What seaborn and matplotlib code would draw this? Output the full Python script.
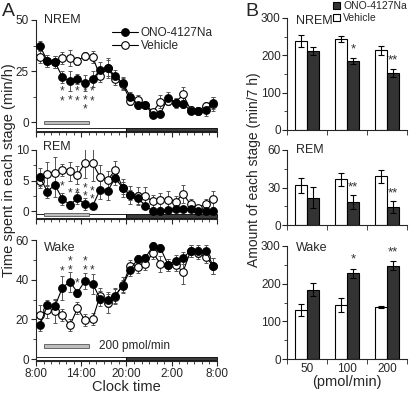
import numpy as np
import pandas as pd
import matplotlib
matplotlib.use('Agg')
import matplotlib.pyplot as plt
import matplotlib.transforms as mtransforms
from matplotlib.patches import Rectangle
from matplotlib.ticker import FixedLocator, MultipleLocator
import seaborn as sns

# ---- data ----
hours = [0.5, 1.5, 2.5, 3.5, 4.5, 5.5, 6.5, 7.5, 8.5, 9.5, 10.5, 11.5,
         12.5, 13.5, 14.5, 15.5, 16.5, 17.5, 18.5, 19.5, 20.5, 21.5, 22.5, 23.5]
clock_labels = ['8:00', '14:00', '20:00', '2:00', '8:00']

nrem_ono = [37.5, 30, 29.5, 22, 20, 21, 19, 21, 25.5, 26.5, 22.5, 19,
            12.5, 8.5, 8.5, 3.5, 4, 12, 9.5, 9, 5.5, 5.5, 6, 9.5]
nrem_ono_err = [2, 3, 3, 3, 5, 2.5, 4, 4, 4, 4, 3, 3,
                2, 2, 1.5, 1.5, 1.5, 2.5, 2.5, 2, 1, 2, 3, 3]
nrem_veh = [32, 30, 29.5, 31.5, 31.5, 30, 32.5, 32, 22.5, 26.5, 21, 18.5,
            10.5, 11, 8.5, 5, 10, 10.5, 9.5, 13.5, 6, 5.5, 8, 9]
nrem_veh_err = [3, 3, 3, 3, 4, 2, 2, 3, 3, 5, 3, 3,
                2, 2, 1.5, 1.5, 3, 2, 2, 3.5, 2, 1.5, 2, 3.5]

rem_ono = [5.6, 3.2, 4.3, 2.0, 1.0, 2.1, 1.1, 0.8, 3.5, 3.3, 5.4, 3.8,
           2.6, 2.1, 0.9, 0, 0, 0.2, 0.4, 0.4, 0.3, 0, 0, 0]
rem_ono_err = [1.5, 1, 2, 1, 0.7, 1, 1, 0.5, 1.5, 1.5, 1.2, 1,
               0.8, 1, 0.5, 0.2, 0.2, 0.3, 0.3, 0.3, 0.3, 0.2, 0.2, 0.2]
rem_veh = [5.0, 6.1, 6.3, 6.7, 6.5, 5.9, 7.9, 7.8, 5.6, 5.1, 6.7, 3.8,
           2.6, 2.5, 2.4, 1.6, 1.8, 1.8, 1.5, 2.8, 1.1, 0.5, 1.2, 2.0]
rem_veh_err = [1.2, 2, 2.5, 1, 1.5, 1.5, 2.5, 2.8, 2, 1.5, 1.5, 1.5,
               1.5, 1.5, 1.5, 1, 1.2, 1.5, 1, 1.5, 0.8, 0.5, 0.7, 1.3]

wake_ono = [17, 27, 26.5, 36, 39, 33.5, 39.5, 38, 30.5, 30, 32, 37,
            45, 50.5, 51, 57, 56, 47.5, 49.5, 51, 54.5, 54.5, 54.5, 47]
wake_ono_err = [3, 3, 4, 6, 5, 2, 4, 5, 4, 4, 4, 3,
                3, 2, 2, 2, 2, 3, 3, 3, 3, 3, 3, 4]
wake_veh = [22, 24.5, 24, 22, 17, 25.5, 19.5, 20, 32, 28, 31.5, 37.5,
            47, 46.5, 48, 53.5, 48, 47.5, 47.5, 44, 54.5, 53.5, 51.5, 47]
wake_veh_err = [5, 4, 6, 3, 3, 3, 3, 3, 4, 5, 4, 4,
                3, 3, 3, 3, 4, 3, 3, 6, 3, 3, 3, 4]

star_hours = [3.5, 4.5, 5.5, 6.5, 7.5]
nrem_stars = ['**', '*', '**', '***', '**']
rem_stars = ['*', '*', '*', '**', '**']
wake_stars = ['*', '**', '*', '**', '*']

doses = ['50', '100', '200']
nrem_bar_veh = [238, 244, 213]
nrem_bar_veh_err = [17, 7, 11]
nrem_bar_ono = [212, 186, 153]
nrem_bar_ono_err = [10, 8, 10]
rem_bar_veh = [32, 36.5, 39]
rem_bar_veh_err = [6, 5, 5]
rem_bar_ono = [22, 18.5, 14.5]
rem_bar_ono_err = [8.5, 5.5, 5]
wake_bar_veh = [130, 143, 139]
wake_bar_veh_err = [17, 19, 3]
wake_bar_ono = [184, 228, 248]
wake_bar_ono_err = [17, 12, 11]
nrem_bar_stars = ['', '*', '**']
rem_bar_stars = ['', '**', '**']
wake_bar_stars = ['', '*', '**']

# ---- style ----
sns.set_style('ticks')
plt.rcParams['font.family'] = ['Liberation Sans', 'DejaVu Sans']
plt.rcParams['axes.linewidth'] = 0.8
plt.rcParams['xtick.major.width'] = 0.8
plt.rcParams['ytick.major.width'] = 0.8
plt.rcParams['xtick.minor.width'] = 0.6
plt.rcParams['ytick.minor.width'] = 0.6

W, H = 410, 394
fig = plt.figure(figsize=(W / 100, H / 100), dpi=100)


def px_axes(l, t, r, b):
    return fig.add_axes([l / W, 1 - b / H, (r - l) / W, (b - t) / H])


def ftext(x, y, s, **kw):
    fig.text(x / W, 1 - y / H, s, **kw)


def time_panel(ax, ono, ono_err, veh, veh_err, ylim, yticks, ystep, hpx):
    sns.lineplot(x=hours, y=veh, ax=ax, color='black', lw=0.8, marker='o',
                 markersize=5.5, markerfacecolor='white', markeredgecolor='black',
                 markeredgewidth=0.8, zorder=3)
    veh_line = ax.lines[-1]
    ax.errorbar(hours, veh, yerr=veh_err, fmt='none', ecolor='#555555',
                elinewidth=0.7, capsize=1.5, capthick=0.7, zorder=2)
    sns.lineplot(x=hours, y=ono, ax=ax, color='black', lw=0.8, marker='o',
                 markersize=5.5, markerfacecolor='black', markeredgecolor='black',
                 markeredgewidth=0.8, zorder=4)
    ono_line = ax.lines[-1]
    ax.errorbar(hours, ono, yerr=ono_err, fmt='none', ecolor='#555555',
                elinewidth=0.7, capsize=1.5, capthick=0.7, zorder=2)
    ax.set_xlim(0, 24)
    ax.set_ylim(*ylim)
    ax.xaxis.set_major_locator(FixedLocator([0, 6, 12, 18, 24]))
    ax.xaxis.set_minor_locator(MultipleLocator(1))
    ax.yaxis.set_major_locator(FixedLocator(yticks))
    ax.yaxis.set_minor_locator(FixedLocator([v + ystep / 2 for v in yticks[:-1]]))
    ax.tick_params(axis='both', which='major', length=3.5, labelsize=8.5, pad=1.5)
    ax.tick_params(axis='both', which='minor', length=2)
    ax.set_xticklabels([])
    ax.set_xlabel('')
    ax.set_ylabel('')
    sns.despine(ax=ax)
    # light / dark phase bar along the bottom
    trans = mtransforms.blended_transform_factory(ax.transData, ax.transAxes)
    ax.add_patch(Rectangle((0, 1 / hpx), 12, 3.5 / hpx, transform=trans,
                           facecolor='white', edgecolor='black', lw=0.6, clip_on=False))
    ax.add_patch(Rectangle((12, 1 / hpx), 12, 3.5 / hpx, transform=trans,
                           facecolor='#3c3c3c', edgecolor='black', lw=0.6, clip_on=False))
    return ono_line, veh_line


def infusion_bar(ax, y, h):
    ax.add_patch(Rectangle((1, y), 6, h, facecolor='#bdbdbd', edgecolor='#555555',
                           lw=0.6, zorder=2))


def draw_stars(ax, labels, tops, gap, spacing):
    # stacked asterisks drawn as one multi-line text per time point
    for hr, s, top in zip(star_hours, labels, tops):
        n = len(s)
        ax.text(hr, top - (n - 1) * gap / 2, '\n'.join(s), ha='center', va='center',
                fontsize=8.5, color='#333333', linespacing=spacing)


# ---- panel A ----
axA1 = px_axes(36, 20, 217, 132)
ono_l, veh_l = time_panel(axA1, nrem_ono, nrem_ono_err, nrem_veh, nrem_veh_err,
                          (-4.9, 50), [0, 25, 50], 25, 112)
infusion_bar(axA1, -1.1, 1.8)
draw_stars(axA1, nrem_stars, [14.5, 10.6, 14.5, 14.5, 14.5], 3.9, 0.7)
axA1.legend(handles=[ono_l, veh_l], labels=['ONO-4127Na', 'Vehicle'],
            loc='upper left', bbox_to_anchor=(0.42, 0.94), frameon=False,
            fontsize=8.5, handlelength=2.2, handletextpad=0.25,
            labelspacing=0.15, borderpad=0, borderaxespad=0)

axA2 = px_axes(36, 150, 217, 219)
time_panel(axA2, rem_ono, rem_ono_err, rem_veh, rem_veh_err,
           (-1.3, 10), [0, 5, 10], 5, 69)
infusion_bar(axA2, -0.85, 0.55)
draw_stars(axA2, rem_stars, [4.0, 2.9, 2.9, 3.6, 3.1], 1.05, 0.58)

axA3 = px_axes(36, 240, 217, 361)
time_panel(axA3, wake_ono, wake_ono_err, wake_veh, wake_veh_err,
           (-1, 60), [0, 20, 40, 60], 20, 121)
infusion_bar(axA3, 5.6, 1.9)
axA3.text(8.3, 6.6, '200 pmol/min', ha='left', va='center', fontsize=8.5)
draw_stars(axA3, wake_stars, [44, 48.8, 38, 48.8, 44.8], 4, 0.7)
axA3.set_xticklabels(clock_labels)
axA3.set_xlabel('Clock time', fontsize=10.5, labelpad=0)

# ---- panel B ----
def bar_panel(ax, veh, veh_err, ono, ono_err, stars, ymax, yticks, star_off):
    df = pd.DataFrame({'dose': doses * 2,
                       'group': ['Vehicle'] * 3 + ['ONO-4127Na'] * 3,
                       'value': veh + ono})
    sns.barplot(data=df, x='dose', y='value', hue='group',
                hue_order=['Vehicle', 'ONO-4127Na'],
                palette={'Vehicle': 'white', 'ONO-4127Na': '#333333'},
                edgecolor='black', linewidth=0.8, width=0.6, saturation=1,
                errorbar=None, legend=False, ax=ax)
    bars = list(ax.patches)
    centers = [p.get_x() + p.get_width() / 2 for p in bars]
    ax.errorbar(centers, veh + ono, yerr=veh_err + ono_err, fmt='none',
                ecolor='black', elinewidth=0.8, capsize=2, capthick=0.8, zorder=3)
    for i, s in enumerate(stars):
        if s:
            ax.text(centers[3 + i], ono[i] + ono_err[i] + star_off, s,
                    ha='center', va='center', fontsize=9.5, color='#333333')
    ax.set_xlim(-0.5, 2.5)
    ax.set_ylim(0, ymax)
    ax.yaxis.set_major_locator(FixedLocator(yticks))
    ax.yaxis.set_minor_locator(FixedLocator([v + yticks[1] / 2 for v in yticks[:-1]]))
    ax.xaxis.set_minor_locator(FixedLocator([-0.5, 0.5, 1.5, 2.5]))
    ax.tick_params(axis='x', which='major', length=0, labelsize=8.5, pad=3)
    ax.tick_params(axis='x', which='minor', length=3.5)
    ax.tick_params(axis='y', which='major', length=3.5, labelsize=8.5, pad=1)
    ax.tick_params(axis='y', which='minor', length=2)
    ax.set_xlabel('')
    ax.set_ylabel('')
    sns.despine(ax=ax)
    return bars


axB1 = px_axes(287, 18, 407, 130)
barsB = bar_panel(axB1, nrem_bar_veh, nrem_bar_veh_err, nrem_bar_ono, nrem_bar_ono_err,
                  nrem_bar_stars, 300, [0, 100, 200, 300], 22)
axB1.set_xticklabels([])

axB2 = px_axes(287, 150, 407, 225)
bar_panel(axB2, rem_bar_veh, rem_bar_veh_err, rem_bar_ono, rem_bar_ono_err,
          rem_bar_stars, 60, [0, 30, 60], 6)
axB2.set_xticklabels([])

axB3 = px_axes(287, 246, 407, 359)
bar_panel(axB3, wake_bar_veh, wake_bar_veh_err, wake_bar_ono, wake_bar_ono_err,
          wake_bar_stars, 300, [0, 100, 200, 300], 24)
axB3.set_xlabel('(pmol/min)', fontsize=10.5, labelpad=0)

fig.legend(handles=[barsB[3], barsB[0]], labels=['ONO-4127Na', 'Vehicle'],
           loc='upper left', bbox_to_anchor=(333 / W, 1 - 1 / H), frameon=False,
           fontsize=7.5, handlelength=0.7, handleheight=0.7, handletextpad=0.3,
           labelspacing=0.2, borderpad=0, borderaxespad=0)

# ---- panel texts ----
ftext(2, 11, 'A', fontsize=14, ha='left', va='center')
ftext(245, 11, 'B', fontsize=14, ha='left', va='center')
ftext(44, 20, 'NREM', fontsize=9, ha='left', va='center')
ftext(43, 147, 'REM', fontsize=9, ha='left', va='center')
ftext(44, 248, 'Wake', fontsize=9, ha='left', va='center')
ftext(296, 21, 'NREM', fontsize=9, ha='left', va='center')
ftext(296, 150, 'REM', fontsize=9, ha='left', va='center')
ftext(296, 248, 'Wake', fontsize=9, ha='left', va='center')
ftext(9, 170, 'Time spent in each stage (min/h)', fontsize=10.5,
      rotation=90, ha='center', va='center')
ftext(254, 170, 'Amount of each stage (min/7 h)', fontsize=10,
      rotation=90, ha='center', va='center')

fig.savefig('out.png', dpi=100)
